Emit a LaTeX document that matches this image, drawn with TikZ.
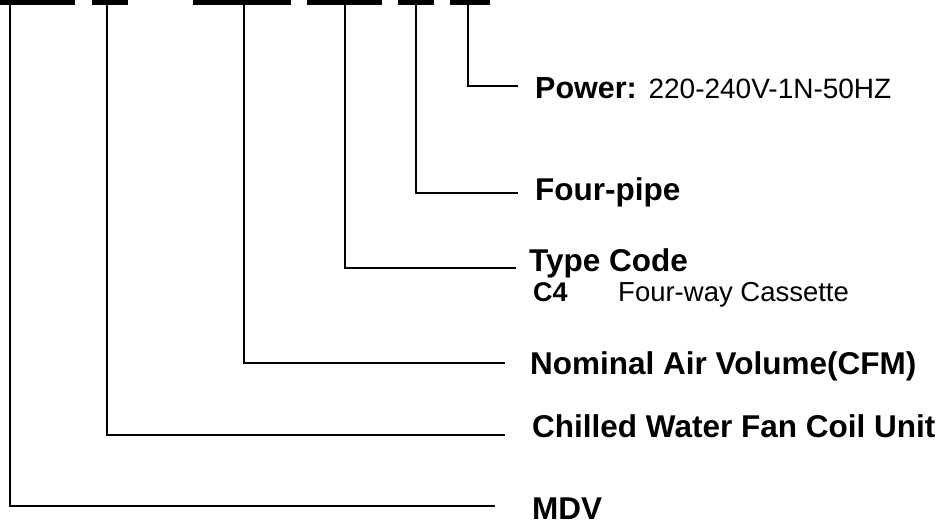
\documentclass[tikz,border=0pt]{standalone}
\usepackage{fontspec}
\setmainfont{Liberation Sans}
\begin{document}
\begin{tikzpicture}[x=1pt,y=-1pt,
  bar/.style={fill=black,inner sep=0pt,minimum height=5pt,outer sep=0pt},
  lead/.style={line width=2pt,black},
  lbl/.style={anchor=base west,inner sep=0pt,font=\fontsize{31.5}{36}\selectfont\bfseries},
  sub/.style={anchor=base west,inner sep=0pt,font=\fontsize{27.5}{32}\selectfont}]
\useasboundingbox (0,0) rectangle (948,530);
% code bars
\node[bar,minimum width=75pt] (b1) at (37.5,2.5) {};
\node[bar,minimum width=36pt] (b2) at (110,2.5) {};
\node[bar,minimum width=98pt] (b3) at (242,2.5) {};
\node[bar,minimum width=75pt] (b4) at (344.5,2.5) {};
\node[bar,minimum width=36pt] (b5) at (416,2.5) {};
\node[bar,minimum width=40pt] (b6) at (470,2.5) {};
% labels
\node[lbl] (tpow) at (535,98.3) {{\fontsize{30.5}{36}\selectfont Power:} {\mdseries\fontsize{28}{32}\selectfont 220-240V-1N-50HZ}};
\node[lbl] (tfour) at (535,200) {Four-pipe};
\node[lbl] (ttype) at (529,271) {Type Code};
\node[sub,font=\fontsize{27}{32}\selectfont\bfseries] (tc4) at (533,301) {C4};
\node[sub] (tcas) at (618,301) {Four-way Cassette};
\node[lbl] (tnom) at (530,374.5) {Nominal Air Volume(CFM)};
\node[lbl] (tchw) at (532,437) {Chilled Water Fan Coil Unit};
\node[lbl] (tmdv) at (532,519) {MDV};
% leader ends
\coordinate (epow) at (518,85.5);
\coordinate (efour) at (518,192.7);
\coordinate (etype) at (515.7,268.3);
\coordinate (enom) at (505,362.7);
\coordinate (echw) at (505,435);
\coordinate (emdv) at (495,506);
% leaders
\draw[lead] ([xshift=9.5pt]b1.south west) |- (emdv);
\draw[lead] ([xshift=14.5pt]b2.south west) |- (echw);
\draw[lead] ([xshift=50.5pt]b3.south west) |- (enom);
\draw[lead] ([xshift=37.5pt]b4.south west) |- (etype);
\draw[lead] ([xshift=18pt]b5.south west) |- (efour);
\draw[lead] ([xshift=18pt]b6.south west) |- (epow);
\end{tikzpicture}
\end{document}
